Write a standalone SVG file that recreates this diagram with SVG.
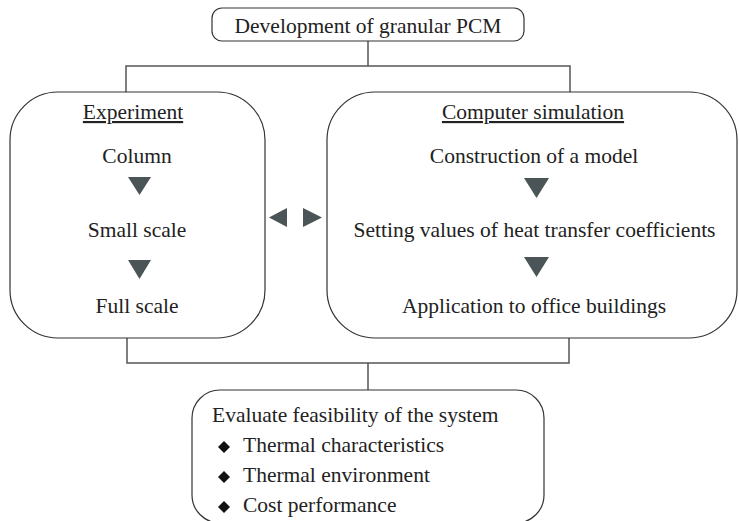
<svg xmlns="http://www.w3.org/2000/svg" width="739" height="521" viewBox="0 0 739 521">
<style>
.box{fill:#fff;stroke:#333;stroke-width:1.2}
.ln{fill:none;stroke:#555;stroke-width:1.5}
.t{font-family:"Liberation Serif","Times New Roman",serif;font-size:21.5px;fill:#222}
.c{text-anchor:middle}
.tri{fill:#4b5456}
.dm{fill:#111}
</style>
<rect width="739" height="521" fill="#fff"/>
<g id="connectors">
<path class="ln" d="M368,41 V66 M126,92 V66 H570 V92"/>
<path class="ln" d="M127,338 V363 H569 V338 M368,363 V390"/>
</g>
<g id="top">
<rect class="box" x="212" y="8" width="312" height="33" rx="10"/>
<text class="t c" x="368" y="33">Development of granular PCM</text>
</g>
<g id="experiment">
<rect class="box" x="10" y="92" width="255" height="246" rx="48"/>
<text class="t c" x="133" y="119" text-decoration="underline">Experiment</text>
<text class="t c" x="137" y="163">Column</text>
<polygon class="tri" points="128,177 151,177 139.5,195"/>
<text class="t c" x="137" y="237">Small scale</text>
<polygon class="tri" points="128,260 151,260 139.5,279"/>
<text class="t c" x="137" y="313">Full scale</text>
</g>
<g id="arrows">
<polygon class="tri" points="287,208 287,227 269,217.5"/>
<polygon class="tri" points="303,208 303,227 322,217.5"/>
</g>
<g id="simulation">
<rect class="box" x="327" y="92" width="410" height="246" rx="48"/>
<text class="t c" x="533" y="119" text-decoration="underline">Computer simulation</text>
<text class="t c" x="534" y="163">Construction of a model</text>
<polygon class="tri" points="524,178 549,178 536.5,198"/>
<text class="t c" x="534.5" y="237">Setting values of heat transfer coefficients</text>
<polygon class="tri" points="524,257 549,257 536.5,277"/>
<text class="t c" x="534" y="313">Application to office buildings</text>
</g>
<g id="evaluate">
<rect class="box" x="192" y="390" width="352" height="133" rx="28"/>
<text class="t" x="212" y="422">Evaluate feasibility of the system</text>
<polygon class="dm" points="224,441 230,447 224,453 218,447"/>
<text class="t" x="243" y="452">Thermal characteristics</text>
<polygon class="dm" points="224,471 230,477 224,483 218,477"/>
<text class="t" x="243" y="482">Thermal environment</text>
<polygon class="dm" points="224,501 230,507 224,513 218,507"/>
<text class="t" x="243" y="512">Cost performance</text>
</g>
</svg>
